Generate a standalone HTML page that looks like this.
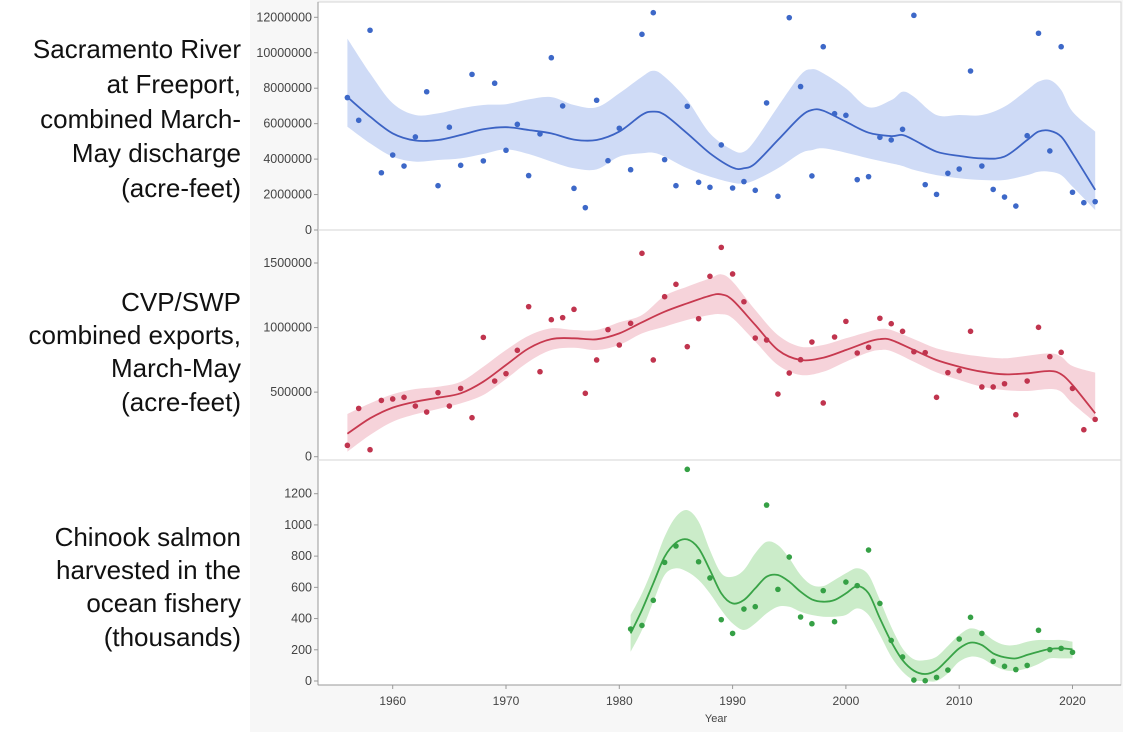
<!DOCTYPE html>
<html><head><meta charset="utf-8">
<style>
html,body{margin:0;padding:0;background:#fff;}
svg{display:block;font-family:"Liberation Sans",sans-serif;}
.lab{font-size:26px;fill:#111;text-anchor:end;}
.tick{font-size:12.5px;fill:#444;text-anchor:end;}
.xt{font-size:12px;fill:#444;text-anchor:middle;}
</style></head>
<body>
<svg id="chart" width="1123" height="732" viewBox="0 0 1123 732">
<rect x="250" y="0" width="873" height="732" fill="#f7f7f7"/>
<rect x="318" y="2" width="803" height="683" fill="#fff" stroke="#d6d6d6"/>
<line x1="318" x2="318" y1="2" y2="685" stroke="#999"/>
<line x1="318" x2="1121" y1="685" y2="685" stroke="#999"/>
<g>
<text class="lab" x="241" y="58">Sacramento River</text>
<text class="lab" x="241" y="93">at Freeport,</text>
<text class="lab" x="241" y="128">combined March-</text>
<text class="lab" x="241" y="162">May discharge</text>
<text class="lab" x="241" y="197">(acre-feet)</text>
</g>
<g>
<text class="lab" x="241" y="311">CVP/SWP</text>
<text class="lab" x="241" y="344">combined exports,</text>
<text class="lab" x="241" y="377">March-May</text>
<text class="lab" x="241" y="411">(acre-feet)</text>
</g>
<g>
<text class="lab" x="241" y="546">Chinook salmon</text>
<text class="lab" x="241" y="579">harvested in the</text>
<text class="lab" x="241" y="612">ocean fishery</text>
<text class="lab" x="241" y="646">(thousands)</text>
</g>
<g id="layer"></g>
<text x="716" y="722" style="font-size:11px;fill:#444;text-anchor:middle">Year</text>
</svg>
<script>
// ---- data ----
const yearsTop = [];for(let y=1956;y<=2022;y++)yearsTop.push(y);
const yearsSalmon = [];for(let y=1981;y<=2020;y++)yearsSalmon.push(y);
const dischargeM = [7.47,6.19,11.27,3.23,4.23,3.61,5.25,7.8,2.5,5.8,3.65,8.78,3.9,8.28,4.5,5.96,3.07,5.42,9.72,7.0,2.35,1.26,7.32,3.91,5.74,3.4,11.04,12.26,3.97,2.5,6.98,2.69,2.41,4.8,2.37,2.73,2.24,7.17,1.9,11.98,8.09,3.05,10.34,6.56,6.47,2.84,3.01,5.23,5.08,5.68,12.11,2.56,2.01,3.2,3.44,8.97,3.61,2.29,1.86,1.35,5.32,11.1,4.46,10.34,2.13,1.54,1.6];
const exportsK = [88,374,54,436,447,460,392,346,496,392,529,302,924,586,643,824,1162,658,1061,1077,1141,491,749,984,865,1033,1575,749,1239,1335,852,1069,1397,1621,1415,1200,919,904,485,648,751,888,416,927,1048,803,847,1072,1030,971,813,806,460,651,666,971,540,540,565,325,586,1002,775,808,529,209,289];
const salmonK = [333,356,517,760,865,1356,764,660,393,305,461,476,1127,587,794,410,367,579,380,634,611,839,497,260,154,6,2,23,70,269,408,305,126,94,73,100,325,201,209,184];
const fitYearsA = [1956,1958,1960,1962,1964,1966,1968,1970,1972,1974,1976,1978,1980,1982,1983,1984,1986,1988,1990,1991,1992,1994,1996,1997,1998,2000,2002,2004,2005,2006,2008,2010,2012,2014,2016,2017,2018,2019,2020,2022];
const dischargeFit = [7.5,6.4,5.45,5.05,5.08,5.36,5.68,5.8,5.64,5.45,5.1,5.08,5.55,6.5,6.68,6.5,5.45,4.33,3.52,3.48,3.76,5.08,6.4,6.77,6.73,6.11,5.49,5.3,5.36,5.08,4.42,4.18,4.04,4.14,5.08,5.55,5.6,5.27,4.33,2.26];
const dischargeHi = [10.8,8.84,7.15,6.49,6.58,6.86,7.05,7.1,7.37,7.5,7.05,6.92,7.71,8.65,8.99,8.65,7.33,5.45,4.51,4.42,5.08,6.96,8.75,9.07,8.84,7.99,6.92,7.33,7.8,7.52,6.49,6.49,6.49,6.96,7.9,8.37,8.46,7.9,6.68,5.55];
const dischargeLo = [5.83,4.89,4.14,3.86,3.95,4.04,4.29,4.55,4.29,3.86,3.48,3.42,4.14,4.33,4.36,4.14,3.48,3.01,2.67,2.63,2.82,3.48,4.33,4.51,4.61,4.36,4.04,3.76,3.61,3.39,3.1,2.92,2.82,2.82,3.1,3.29,3.29,3.1,2.45,1.13];
const fitYearsB = [1956,1958,1960,1962,1964,1966,1968,1970,1972,1974,1976,1978,1980,1982,1984,1986,1988,1989,1990,1992,1994,1996,1998,2000,2002,2003,2004,2006,2008,2010,2012,2014,2016,2018,2019,2020,2022];
const exportsFit = [178,297,380,426,457,491,581,710,839,911,917,909,955,1041,1123,1188,1247,1257,1213,1020,826,749,767,826,891,911,904,826,749,697,658,638,646,664,638,555,336];
const exportsHi = [331,413,483,524,542,581,697,826,937,994,981,981,1041,1097,1245,1317,1381,1412,1356,1136,942,852,865,917,968,989,981,911,839,800,775,762,782,800,775,702,651];
const exportsLo = [39,168,271,328,369,413,478,602,736,826,844,826,865,955,1007,1059,1097,1103,1072,891,710,633,658,736,808,826,818,736,653,594,542,516,509,524,503,413,266];
const salmonFit = [305,455,626,796,886,907,850,711,561,497,519,594,668,679,636,572,523,508,519,561,608,561,401,252,134,66,45,70,139,209,246,230,177,152,145,167,188,205,209,203];
const salmonHi = [423,561,732,924,1053,1095,1021,839,690,668,711,818,892,871,786,679,615,608,647,690,722,679,519,348,209,139,134,156,224,295,337,316,263,231,231,252,263,263,263,252];
const salmonLo = [188,327,508,679,722,700,647,561,455,369,327,369,433,476,476,444,423,412,412,423,465,423,295,156,60,6,0,0,49,124,156,145,102,70,66,81,109,145,145,145];
const ticksA = [0,2000000,4000000,6000000,8000000,10000000,12000000];
const ticksB = [0,500000,1000000,1500000];
const ticksC = [0,200,400,600,800,1000,1200];
const xTicks = [1960,1970,1980,1990,2000,2010,2020];

// ---- scales ----
const X = y => 392.7 + (y-1960)*11.33;
const YA = v => 230 - v/12000000*212.7;
const YB = v => 456.7 - v/1500000*193.7;
const YC = v => 681 - v/1200*187.3;
const NS='http://www.w3.org/2000/svg';
const layer=document.getElementById('layer');
function mk(tag,attrs,parent){const e=document.createElementNS(NS,tag);for(const k in attrs)e.setAttribute(k,attrs[k]);(parent||layer).appendChild(e);return e;}
function smooth(pts){let d='M'+pts[0][0].toFixed(1)+','+pts[0][1].toFixed(1);
 for(let i=0;i<pts.length-1;i++){const p0=pts[i-1]||pts[i],p1=pts[i],p2=pts[i+1],p3=pts[i+2]||p2;
  const c1=[p1[0]+(p2[0]-p0[0])/6,p1[1]+(p2[1]-p0[1])/6],c2=[p2[0]-(p3[0]-p1[0])/6,p2[1]-(p3[1]-p1[1])/6];
  d+='C'+c1[0].toFixed(1)+','+c1[1].toFixed(1)+' '+c2[0].toFixed(1)+','+c2[1].toFixed(1)+' '+p2[0].toFixed(1)+','+p2[1].toFixed(1);}
 return d;}
function smoothRev(pts){return smooth(pts.slice().reverse()).replace(/^M/,'L');}

function panel(name,Y,ticks,fmt,fy,fit,hi,lo,xs,vals,scale,dot,band,line,top,bottom){
 const g=mk('g',{});
 
 
 if(bottom<680){const sep=mk('line',{x1:318,x2:1121,y1:bottom,y2:bottom,stroke:'#d6d6d6'},g);
  
  }
 ticks.forEach(t=>{const y=Y(t);
  const tl=mk('line',{x1:314,x2:318,y1:y,y2:y,stroke:'#999'},g);
  
  
  const tx=mk('text',{class:'tick',x:312,y:y+4},g);tx.textContent=fmt(t);
  
  });
 const hp=hi.map((v,i)=>[X(fy[i]),Y(v*scale)]),lp=lo.map((v,i)=>[X(fy[i]),Y(v*scale)]);
 const b=mk('path',{d:smooth(hp)+smoothRev(lp)+'Z',fill:band,stroke:'none'},g);
 
 
 const fp=fit.map((v,i)=>[X(fy[i]),Y(v*scale)]);
 const l=mk('path',{d:smooth(fp),fill:'none',stroke:line,'stroke-width':1.8},g);
 
 
 vals.forEach((v,i)=>{const c=mk('circle',{cx:X(xs[i]),cy:Y(v*scale),r:2.8,fill:dot},g);
  
  });
}
panel('discharge',YA,ticksA,t=>String(t),fitYearsA,dischargeFit,dischargeHi,dischargeLo,yearsTop,dischargeM,1e6,'#3d68c8','#cfdbf6','#3c63c4',2,230);
panel('exports',YB,ticksB,t=>String(t),fitYearsB,exportsFit,exportsHi,exportsLo,yearsTop,exportsK,1e3,'#c0344e','#f6d3da','#c7394f',230,460);
panel('salmon',YC,ticksC,t=>String(t),yearsSalmon,salmonFit,salmonHi,salmonLo,yearsSalmon,salmonK,1,'#35a045','#cbecc9','#39a347',460,685);

xTicks.forEach(t=>{const x=X(t);
 const tl=mk('line',{x1:x,x2:x,y1:685,y2:689,stroke:'#999'});
 
 
 const tx=mk('text',{class:'xt',x:x,y:705});tx.textContent=t;
 
 });
</script>
</body></html>
